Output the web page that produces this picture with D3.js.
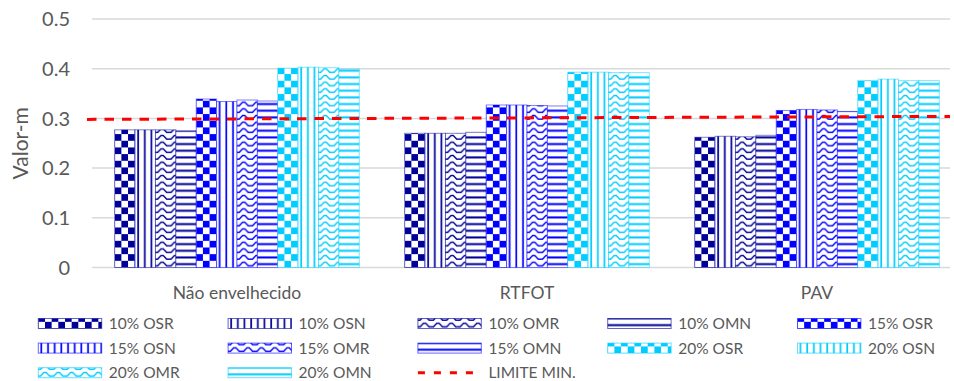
<!DOCTYPE html>
<html>
<head>
<meta charset="utf-8">
<script src="https://cdn.jsdelivr.net/npm/d3@7"></script>
<style>
  body { margin: 0; background: #fff; }
  text { font-family: Lato, "Open Sans", sans-serif; fill: #595959; }
</style>
</head>
<body>
<svg id="chart" width="954" height="381"></svg>
<script>
// Categories (aging condition) and series (binder content + modifier)
const categories = ["Não envelhecido", "RTFOT", "PAV"];
const seriesNames = ["10% OSR", "10% OSN", "10% OMR", "10% OMN",
                     "15% OSR", "15% OSN", "15% OMR", "15% OMN",
                     "20% OSR", "20% OSN", "20% OMR", "20% OMN"];
const seriesPattern = ["OSR", "OSN", "OMR", "OMN",
                       "OSR", "OSN", "OMR", "OMN",
                       "OSR", "OSN", "OMR", "OMN"];
const seriesColor = ["#000099", "#000099", "#000099", "#000099",
                     "#0000ff", "#0000ff", "#0000ff", "#0000ff",
                     "#00ccff", "#00ccff", "#00ccff", "#00ccff"];

// m-values per category, one array per series
const v10OSR = [0.277, 0.270, 0.262];
const v10OSN = [0.277, 0.270, 0.264];
const v10OMR = [0.277, 0.270, 0.263];
const v10OMN = [0.275, 0.272, 0.266];
const v15OSR = [0.339, 0.327, 0.316];
const v15OSN = [0.334, 0.327, 0.318];
const v15OMR = [0.337, 0.326, 0.317];
const v15OMN = [0.335, 0.325, 0.314];
const v20OSR = [0.401, 0.393, 0.376];
const v20OSN = [0.403, 0.393, 0.379];
const v20OMR = [0.402, 0.392, 0.376];
const v20OMN = [0.399, 0.392, 0.376];

// Minimum limit line (start and end of the plot width)
const limitPos = [0, 1];
const limitValues = [0.298, 0.304];
const limitLabel = "LIMITE MIN.";

const yTicks = [0, 0.1, 0.2, 0.3, 0.4, 0.5];
const yTickLabels = ["0", "0.1", "0.2", "0.3", "0.4", "0.5"];
const yTitle = "Valor-m";

const seriesValues = [v10OSR, v10OSN, v10OMR, v10OMN, v15OSR, v15OSN,
                      v15OMR, v15OMN, v20OSR, v20OSN, v20OMR, v20OMN];

const svg = d3.select("#chart");
const plot = { left: 92, right: 962, top: 19, bottom: 267.5, gridEnd: 950 };

const y = d3.scaleLinear().domain([0, 0.5]).range([plot.bottom, plot.top]);
const pad = 0.1566;
const x0 = d3.scaleBand().domain(categories).range([plot.left, plot.right])
  .paddingInner(pad).paddingOuter(pad / 2);
const x1 = d3.scaleBand().domain(d3.range(seriesNames.length)).range([0, x0.bandwidth()]);
const xLimit = d3.scaleLinear().domain([0, 1]).range([87, 950]);

// ---- fill patterns ----
const defs = svg.append("defs");
const C = 6.67;
function makePattern(id, kind, color) {
  const p = defs.append("pattern").attr("id", id).attr("patternUnits", "userSpaceOnUse");
  if (kind === "OSR") {
    p.attr("width", 2 * C).attr("height", 2 * C);
    p.append("rect").attr("width", 2 * C).attr("height", 2 * C).attr("fill", "#fff");
    p.append("rect").attr("width", C).attr("height", C).attr("fill", color);
    p.append("rect").attr("x", C).attr("y", C).attr("width", C).attr("height", C).attr("fill", color);
  } else if (kind === "OSN") {
    p.attr("width", C).attr("height", C);
    p.append("rect").attr("width", C).attr("height", C).attr("fill", "#fff");
    p.append("rect").attr("x", 2.2).attr("width", 1.7).attr("height", C).attr("fill", color);
  } else if (kind === "OMN") {
    p.attr("width", C).attr("height", C);
    p.append("rect").attr("width", C).attr("height", C).attr("fill", "#fff");
    p.append("rect").attr("y", 2.3).attr("width", C).attr("height", 2).attr("fill", color);
  } else if (kind === "OMR") {
    p.attr("width", 2 * C).attr("height", C);
    p.append("rect").attr("width", 2 * C).attr("height", C).attr("fill", "#fff");
    p.append("path")
      .attr("d", "M0,5.1 L2.2,5.1 L4.4,2.6 L5.6,1.5 L7.8,1.5 L9,2.6 L11.2,5.1 L13.34,5.1")
      .attr("fill", "none").attr("stroke", color).attr("stroke-width", 1.4);
  }
}
seriesNames.forEach((s, i) => makePattern("pat" + i, seriesPattern[i], seriesColor[i]));

// ---- gridlines and y axis ----
svg.append("g").selectAll("line").data(yTicks).join("line")
  .attr("x1", plot.left).attr("x2", plot.gridEnd)
  .attr("y1", d => y(d)).attr("y2", d => y(d))
  .attr("stroke", "#d9d9d9").attr("stroke-width", 1.5);

svg.append("g").selectAll("text").data(yTicks).join("text")
  .attr("x", 70).attr("y", d => y(d)).attr("dy", "0.36em")
  .attr("text-anchor", "end").style("font-size", "20px")
  .text((d, i) => yTickLabels[i]);

svg.append("text")
  .attr("transform", `translate(28,${(plot.top + plot.bottom) / 2}) rotate(-90)`)
  .attr("text-anchor", "middle").style("font-size", "21px")
  .text(yTitle);

// ---- bars ----
const groups = svg.append("g").selectAll("g").data(categories).join("g")
  .attr("transform", d => `translate(${x0(d)},0)`);

groups.each(function (cat, ci) {
  const g = d3.select(this);
  seriesValues.forEach((vals, si) => {
    const v = vals[ci];
    const bar = g.append("g").attr("transform", `translate(${x1(si)},${y(0)})`);
    bar.append("rect")
      .attr("x", 0).attr("y", y(v) - y(0))
      .attr("width", x1.bandwidth()).attr("height", y(0) - y(v))
      .attr("fill", `url(#pat${si})`)
      .attr("stroke", seriesColor[si]).attr("stroke-opacity", 0.5).attr("stroke-width", 1);
  });
});

// ---- category labels ----
svg.append("g").selectAll("text").data(categories).join("text")
  .attr("x", d => x0(d) + x0.bandwidth() / 2).attr("y", 299)
  .attr("text-anchor", "middle").style("font-size", "17.5px")
  .text(d => d);

// ---- limit line ----
const limitLine = d3.line().x((d, i) => xLimit(limitPos[i])).y(d => y(d));
svg.append("path").datum(limitValues)
  .attr("d", limitLine)
  .attr("fill", "none").attr("stroke", "#ff0000").attr("stroke-width", 3)
  .attr("stroke-dasharray", "9.5,8");

// ---- legend ----
const legendItems = seriesNames.map((n, i) => ({ name: n, idx: i })).concat([{ name: limitLabel, idx: -1 }]);
const legCols = 5, colStep = 189.8, rowStep = 24.6, legX = 38.3, legY = 323.5;
const leg = svg.append("g").selectAll("g").data(legendItems).join("g")
  .attr("transform", (d, i) => `translate(${legX + (i % legCols) * colStep},${legY + Math.floor(i / legCols) * rowStep})`);

leg.each(function (d) {
  const g = d3.select(this);
  if (d.idx >= 0) {
    g.append("g").attr("transform", "translate(0,5)")
      .append("rect").attr("x", 0).attr("y", -10).attr("width", 63.4).attr("height", 10)
      .attr("fill", `url(#pat${d.idx})`)
      .attr("stroke", seriesColor[d.idx]).attr("stroke-opacity", 0.6).attr("stroke-width", 1);
  } else {
    g.append("line").attr("x1", 0).attr("x2", 63.4).attr("y1", 0).attr("y2", 0)
      .attr("stroke", "#ff0000").attr("stroke-width", 3).attr("stroke-dasharray", "7,9");
  }
  g.append("text").attr("x", 70.5).attr("y", 0).attr("dy", "0.36em")
    .style("font-size", "15.5px").text(d.name);
});
</script>
</body>
</html>
